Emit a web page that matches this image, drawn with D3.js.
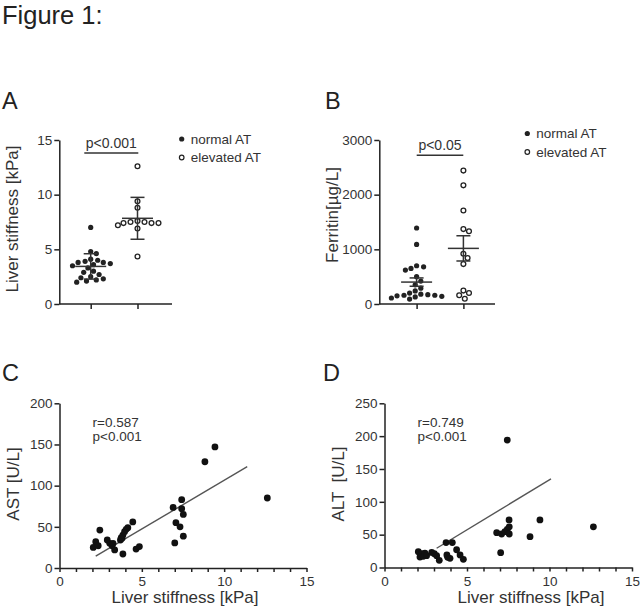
<!DOCTYPE html>
<html><head><meta charset="utf-8">
<script src="https://cdn.jsdelivr.net/npm/d3@7"></script>
<style>
body{margin:0;background:#fff;}
svg{display:block;font-family:"Liberation Sans",Arial,Helvetica,sans-serif;}
</style></head><body>
<svg id="fig" width="640" height="607"></svg>
<script>
// ---------- data ----------
const groups = ["normal AT", "elevated AT"];
const stiffNormal = [7.0, 4.8, 4.6, 4.1, 4.0, 3.9, 3.8, 3.8, 3.7, 3.6, 3.5, 3.3, 3.0, 2.9, 2.7, 2.5, 2.4, 2.3, 2.2, 2.1, 2.0];
const stiffElevated = [12.6, 9.4, 8.8, 7.6, 7.5, 7.5, 7.4, 7.4, 7.4, 7.2, 6.9, 4.35];
const ferritinNormal = [1390, 1090, 700, 680, 650, 620, 500, 420, 350, 290, 240, 200, 180, 170, 160, 160, 150, 140, 130, 110, 90];
const ferritinElevated = [2440, 2170, 1710, 1370, 1330, 920, 840, 730, 245, 200, 160, 95];
const stiffTicks = [0, 5, 10, 15];
const ferritinTicks = [0, 1000, 2000, 3000];
const lsTicks = [0, 5, 10, 15];
const astTicks = [0, 50, 100, 150, 200];
const altTicks = [0, 50, 100, 150, 200, 250];
const astLS  = [2.05, 2.2, 2.35, 2.45, 2.9, 3.05, 3.2, 3.25, 3.35, 3.7, 3.75, 3.8, 3.85, 3.95, 4.05, 4.15, 4.45, 3.85, 4.65, 4.85, 6.9, 7.42, 7.42, 7.52, 7.07, 7.32, 7.52, 7.0, 8.83, 9.44, 12.62];
const astVal = [25, 32, 27, 46, 34, 30, 27, 30, 22, 34, 37, 36, 40, 44, 47, 49, 56, 17, 23, 26, 73.5, 83, 72, 65, 55, 50, 38.6, 30.4, 129, 147, 85];
const altLS  = [2.05, 2.15, 2.25, 2.35, 2.45, 2.55, 2.86, 3.02, 3.16, 3.32, 3.73, 4.11, 3.78, 3.83, 3.97, 4.37, 4.58, 4.78, 6.8, 7.1, 7.3, 7.44, 7.56, 7.56, 7.55, 7.04, 7.44, 8.82, 9.42, 12.66];
const altVal = [24, 16, 21, 17, 22, 18, 23, 21, 18, 11, 38, 38, 19, 15.5, 14, 27, 19, 12.5, 53, 51, 54.6, 58, 62, 51, 72.4, 22.6, 194, 47, 72.4, 62];
const astFitX = [2.2, 11.4], astFitY = [14.3, 123];
const altFitX = [3.16, 10.09], altFitY = [29.3, 135];

// ---------- drawing ----------
const svg = d3.select("#fig");
const INK = "#222", TXT = "#333";

svg.append("text").attr("x", 2).attr("y", 23.5).attr("font-size", 25.5).attr("fill", INK).text("Figure 1:");

function styleAxis(g) {
  g.selectAll("path,line").attr("stroke", INK).attr("stroke-width", 1.5);
  g.selectAll("text").attr("fill", TXT).attr("font-size", 13.5).attr("font-family", "Liberation Sans, Arial, sans-serif");
}

function swarm(values, y, cx, r) {
  const pts = values.map(v => ({ v, y: y(v) })).sort((a, b) => a.y - b.y);
  const placed = [];
  const minD = 2 * r + 0.6, step = 1.4;
  pts.forEach(p => {
    for (let k = 0; k < 200; k++) {
      const off = (k === 0 ? 0 : (k % 2 ? 1 : -1) * Math.ceil(k / 2) * step);
      const x = cx + off;
      if (placed.every(q => (q.x - x) ** 2 + (q.y - p.y) ** 2 >= minD * minD)) { p.x = x; break; }
    }
    placed.push(p);
  });
  return placed;
}

function dotPanel(o) {
  const g = svg.append("g");
  const y = d3.scaleLinear().domain([0, o.ticks[o.ticks.length - 1]]).range([o.yBot, o.yTop]);
  const x = d3.scalePoint().domain(groups).range(o.cats);
  g.append("text").attr("x", o.letterX).attr("y", 109).attr("font-size", 23.5).attr("fill", INK).text(o.letter);
  const ay = g.append("g").attr("transform", `translate(${o.axisX},0)`)
    .call(d3.axisLeft(y).tickValues(o.ticks).tickSize(5).tickPadding(2).tickSizeOuter(0).tickFormat(d3.format("d")));
  styleAxis(ay);
  const ax = g.append("g").attr("transform", `translate(0,${o.yBot})`)
    .call(d3.axisBottom(x).tickSize(5).tickFormat("").tickSizeOuter(0));
  ax.select(".domain").attr("d", `M${o.axisX},0H${o.axisEnd}`);
  styleAxis(ax);
  g.append("text").attr("transform", `translate(${o.axisX - o.labelOff},${(o.yTop + o.yBot) / 2 + o.labelDy}) rotate(-90)`)
    .attr("text-anchor", "middle").attr("font-size", 17).attr("fill", TXT).text(o.label);

  const sets = [o.normal, o.elevated];
  sets.forEach((vals, i) => {
    const pts = swarm(vals, y, x(groups[i]), 2.6);
    g.selectAll(null).data(pts).enter().append("circle")
      .attr("cx", d => d.x).attr("cy", d => d.y).attr("r", i === 0 ? 2.6 : 2.4)
      .attr("fill", i === 0 ? INK : "#fff").attr("stroke", INK).attr("stroke-width", i === 0 ? 0 : 1.3);
  });
  sets.forEach((vals, i) => {
    const m = d3.mean(vals), sd = d3.deviation(vals);
    const e = o.err === "sem" ? sd / Math.sqrt(vals.length) : sd;
    const cx = x(groups[i]);
    const ln = (x1, y1, x2, y2) => g.append("line").attr("x1", x1).attr("y1", y1).attr("x2", x2).attr("y2", y2)
      .attr("stroke", "#333").attr("stroke-width", 1.5);
    ln(cx - 15.5, y(m), cx + 15.5, y(m));
    ln(cx, y(m + e), cx, y(m - e));
    ln(cx - 7, y(m + e), cx + 7, y(m + e));
    ln(cx - 7, y(m - e), cx + 7, y(m - e));
  });
  // significance bar
  g.append("line").attr("x1", o.pLine[0]).attr("x2", o.pLine[1]).attr("y1", o.pLine[2]).attr("y2", o.pLine[2])
    .attr("stroke", "#333").attr("stroke-width", 1.5);
  g.append("text").attr("x", (o.pLine[0] + o.pLine[1]) / 2).attr("y", o.pLine[2] - 5)
    .attr("text-anchor", "middle").attr("font-size", 14).attr("fill", TXT).text(o.pText);
  // legend
  groups.forEach((name, i) => {
    const ly = o.legY + i * 18.5;
    g.append("circle").attr("cx", o.legX).attr("cy", ly).attr("r", i === 0 ? 2.6 : 2.3)
      .attr("fill", i === 0 ? INK : "#fff").attr("stroke", INK).attr("stroke-width", i === 0 ? 0 : 1.2);
    g.append("text").attr("x", o.legX + 9).attr("y", ly + 4.8).attr("font-size", 13.5).attr("fill", TXT).text(name);
  });
}

dotPanel({ letter: "A", letterX: 2, axisX: 59.3, axisEnd: 172, yTop: 140, yBot: 304, cats: [90.7, 137.5],
  ticks: stiffTicks, normal: stiffNormal, elevated: stiffElevated, err: "sd",
  label: "Liver stiffness [kPa]", labelOff: 41, labelDy: -3, pText: "p<0.001", pLine: [84.3, 138.3, 153],
  legX: 181.7, legY: 139 });
dotPanel({ letter: "B", letterX: 325, axisX: 379.3, axisEnd: 495, yTop: 140, yBot: 304, cats: [416.6, 463.4],
  ticks: ferritinTicks, normal: ferritinNormal, elevated: ferritinElevated, err: "sem",
  label: "Ferritin[µg/L]", labelOff: 41.5, labelDy: -7, pText: "p<0.05", pLine: [416.7, 463.3, 155.3],
  legX: 527.3, legY: 133.5 });

function scatterPanel(o) {
  const g = svg.append("g");
  const x = d3.scaleLinear().domain([0, 15]).range([o.x0, o.x1]);
  const y = d3.scaleLinear().domain([0, o.ticks[o.ticks.length - 1]]).range([o.yBot, o.yTop]);
  g.append("text").attr("x", o.letterX).attr("y", 381).attr("font-size", 23.5).attr("fill", INK).text(o.letter);
  const ay = g.append("g").attr("transform", `translate(${o.x0},0)`)
    .call(d3.axisLeft(y).tickValues(o.ticks).tickSize(5).tickPadding(2).tickSizeOuter(0));
  styleAxis(ay);
  const ax = g.append("g").attr("transform", `translate(0,${o.yBot})`)
    .call(d3.axisBottom(x).tickValues(d3.range(0, 16)).tickSize(4).tickPadding(4.7).tickSizeOuter(0)
      .tickFormat(d => lsTicks.includes(d) ? d : ""));
  styleAxis(ax);
  g.append("text").attr("x", o.xLabelX).attr("y", 603).attr("text-anchor", "middle")
    .attr("font-size", 17).attr("fill", TXT).text("Liver stiffness [kPa]");
  g.append("text").attr("transform", `translate(${o.x0 - 41},484) rotate(-90)`)
    .attr("text-anchor", "middle").attr("font-size", 17).attr("fill", TXT)
    .style("white-space", "pre").text(o.label);
  g.append("line").attr("x1", x(o.fitX[0])).attr("y1", y(o.fitY[0])).attr("x2", x(o.fitX[1])).attr("y2", y(o.fitY[1]))
    .attr("stroke", "#555").attr("stroke-width", 1.4);
  g.selectAll(null).data(o.xs).enter().append("circle")
    .attr("cx", d => x(d)).attr("cy", (d, i) => y(o.ys[i])).attr("r", 3.4).attr("fill", "#111");
  g.append("text").attr("x", o.x0 + 33).attr("y", 426.5).attr("font-size", 13.5).attr("fill", TXT).text(o.r);
  g.append("text").attr("x", o.x0 + 33).attr("y", 440.5).attr("font-size", 13.5).attr("fill", TXT).text("p<0.001");
}

scatterPanel({ letter: "C", letterX: 2, x0: 59.5, x1: 306.5, yTop: 403.3, yBot: 568, ticks: astTicks,
  xs: astLS, ys: astVal, fitX: astFitX, fitY: astFitY, label: "AST [U/L]", r: "r=0.587", xLabelX: 185 });
scatterPanel({ letter: "D", letterX: 323, x0: 384.5, x1: 632, yTop: 403.3, yBot: 567.5, ticks: altTicks,
  xs: altLS, ys: altVal, fitX: altFitX, fitY: altFitY, label: "ALT  [U/L]", r: "r=0.749", xLabelX: 531 });
</script>
</body></html>
